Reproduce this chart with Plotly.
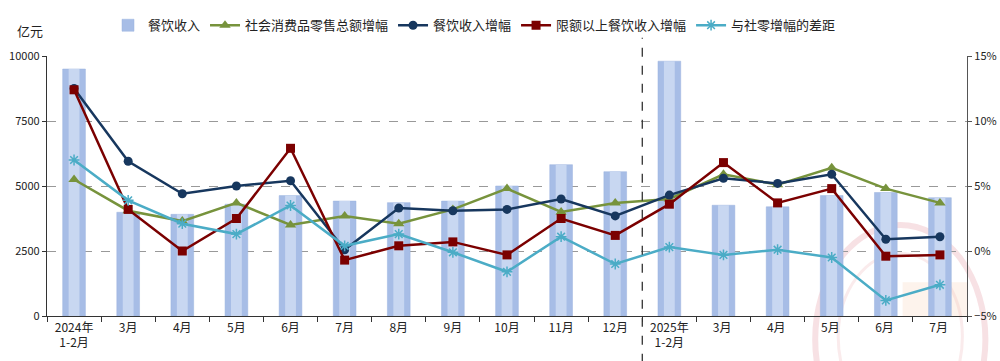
import plotly.graph_objects as go

categories = ["2024年<br>1-2月", "3月", "4月", "5月", "6月", "7月", "8月", "9月", "10月", "11月", "12月",
              "2025年<br>1-2月", "3月 ", "4月 ", "5月 ", "6月 ", "7月 "]
revenue = [9500, 3990, 3910, 4300, 4630, 4420, 4360, 4420, 5000, 5820, 5550,
           9800, 4260, 4200, 4630, 4750, 4550]
retail_growth = [5.5, 3.1, 2.3, 3.7, 2.0, 2.7, 2.1, 3.2, 4.8, 3.0, 3.7,
                 4.0, 5.9, 5.1, 6.4, 4.8, 3.7]
catering_growth = [12.5, 6.9, 4.4, 5.0, 5.4, 0.1, 3.3, 3.1, 3.2, 4.0, 2.7,
                   4.3, 5.6, 5.2, 5.9, 0.9, 1.1]
above_quota_growth = [12.4, 3.2, 0.0, 2.5, 7.9, -0.7, 0.4, 0.7, -0.3, 2.5, 1.2,
                      3.6, 6.8, 3.7, 4.8, -0.4, -0.3]
gap = [7.0, 3.9, 2.1, 1.3, 3.5, 0.4, 1.3, -0.1, -1.6, 1.1, -1.0,
       0.3, -0.3, 0.1, -0.5, -3.8, -2.6]
left_ticks = [0, 2500, 5000, 7500, 10000]
right_ticks = [-5, 0, 5, 10, 15]
right_tick_labels = ["−5%", "0%", "5%", "10%", "15%"]

FONT = "Noto Sans CJK SC"

fig = go.Figure()
fig.add_trace(go.Bar(x=categories, y=revenue, name="餐饮收入", width=0.42,
                     marker=dict(color="#a7bde6", line=dict(color="#9bb3df", width=0.5))))
fig.add_trace(go.Bar(x=categories, y=revenue, name="餐饮收入", width=0.2, showlegend=False,
                     hoverinfo="skip", marker=dict(color="#c8d7f1", line=dict(width=0))))

fig.add_trace(go.Scatter(x=categories, y=retail_growth, name="社会消费品零售总额增幅", yaxis="y2",
                         mode="lines+markers", line=dict(color="#77933c", width=2.5),
                         marker=dict(symbol="triangle-up", size=10, color="#77933c")))
fig.add_trace(go.Scatter(x=categories, y=catering_growth, name="餐饮收入增幅", yaxis="y2",
                         mode="lines+markers", line=dict(color="#17375e", width=2.5),
                         marker=dict(symbol="circle", size=9, color="#17375e")))
fig.add_trace(go.Scatter(x=categories, y=above_quota_growth, name="限额以上餐饮收入增幅", yaxis="y2",
                         mode="lines+markers", line=dict(color="#7b0000", width=2.5),
                         marker=dict(symbol="square", size=9, color="#7b0000")))
fig.add_trace(go.Scatter(x=categories, y=gap, name="与社零增幅的差距", yaxis="y2",
                         mode="lines+markers", line=dict(color="#4bacc6", width=2.5),
                         marker=dict(symbol="asterisk-open", size=9,
                                     line=dict(color="#4bacc6", width=1.5))))

# faint watermark
fig.add_shape(type="circle", xref="paper", yref="paper", x0=0.835, x1=1.02, y0=-0.53, y1=0.35,
              line=dict(color="rgba(220,120,130,0.22)", width=6), layer="below")
fig.add_shape(type="circle", xref="paper", yref="paper", x0=0.86, x1=0.995, y0=-0.4, y1=0.24,
              line=dict(color="rgba(220,120,130,0.15)", width=3), layer="below")
fig.add_shape(type="rect", xref="paper", yref="paper", x0=0.93, x1=1.0, y0=0.0, y1=0.13,
              fillcolor="rgba(245,200,170,0.22)", line=dict(width=0), layer="below")

# separator dashed line
fig.add_shape(type="line", xref="x", yref="paper", x0=10.5, x1=10.5, y0=-0.18, y1=1.07,
              line=dict(color="#333333", width=1.3, dash="dash"))

fig.update_layout(
    width=1000, height=361,
    margin=dict(l=47, r=33, t=56, b=45, autoexpand=False),
    paper_bgcolor="white", plot_bgcolor="white",
    barmode="overlay", bargap=0.5,
    font=dict(family=FONT, size=12, color="#222"),
    title=dict(text="亿元", x=0.03, y=0.912, xref="container", yref="container",
               xanchor="center", yanchor="middle", font=dict(family=FONT, size=13, color="#222")),
    showlegend=True,
    legend=dict(orientation="h", x=0.108, y=0.93, xref="container", yref="container",
                xanchor="left", yanchor="middle",
                font=dict(family=FONT, size=13, color="#222"), itemwidth=30,
                bgcolor="rgba(0,0,0,0)", tracegroupgap=0),
    xaxis=dict(type="category", tickson="boundaries", ticks="outside", ticklen=5,
               range=[-0.5, 16.5], autorange=False,
               tickcolor="#333", showline=True, linecolor="#333", linewidth=1.3,
               showgrid=False, automargin=False,
               tickfont=dict(family=FONT, size=12, color="#222")),
    yaxis=dict(range=[0, 10000], tickvals=left_ticks, tickformat="d",
               ticks="outside", ticklen=4, tickcolor="#333", showline=True,
               linecolor="#333", linewidth=1.3, showgrid=True, gridcolor="#999",
               griddash="dash", gridwidth=1, zeroline=False, automargin=False,
               tickfont=dict(family=FONT, size=11, color="#222")),
    yaxis2=dict(range=[-5, 15], tickmode="array", tickvals=right_ticks, ticktext=right_tick_labels,
                overlaying="y", side="right", ticks="outside", ticklen=4,
                tickcolor="#555", showline=True, linecolor="#555", linewidth=1.3,
                showgrid=False, zeroline=False, automargin=False,
                tickfont=dict(family=FONT, size=11, color="#222")),
)

fig.write_html("out.html", config={"displayModeBar": False},
               post_script="document.body.style.margin='0';document.body.style.overflow='hidden';")
